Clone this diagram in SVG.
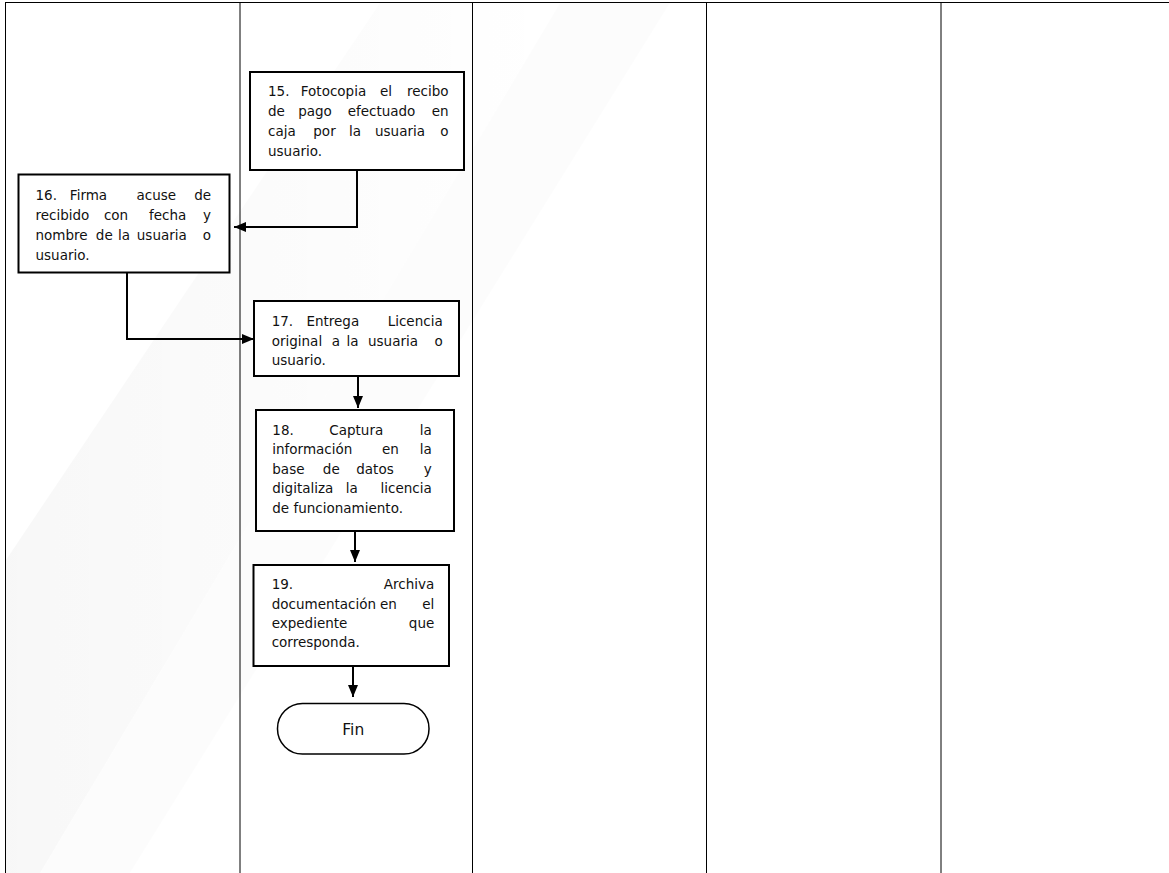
<svg xmlns="http://www.w3.org/2000/svg" width="1169" height="873" viewBox="0 0 1169 873">
<defs>
<style>
.lane{stroke:#000;stroke-width:1;fill:none}
.box{fill:#fff;stroke:#000;stroke-width:2}
.term{fill:#fff;stroke:#000;stroke-width:1.5}
.t{font-family:"DejaVu Sans","Liberation Sans",sans-serif;font-size:13.5px;fill:#111}
.m{text-anchor:middle}
.e{text-anchor:end}
.c{stroke:#000;stroke-width:2;fill:none}
</style>
<marker id="ah" viewBox="0 0 12 10" refX="12" refY="5" markerWidth="12" markerHeight="10" markerUnits="userSpaceOnUse" orient="auto">
<path d="M0,0 L12,5 L0,10 Z" fill="#000"/>
</marker>
<linearGradient id="wm" x1="0" y1="0" x2="1" y2="0">
<stop offset="0" stop-color="#000" stop-opacity="0.03"/>
<stop offset="1" stop-color="#000" stop-opacity="0.0"/>
</linearGradient>
</defs>
<rect width="1169" height="873" fill="#fff"/>
<g id="watermark">
<polygon points="380,3 560,3 40,873 6,873 6,560" fill="url(#wm)"/>
<polygon points="560,3 670,3 130,873 40,873" fill="#000" fill-opacity="0.012"/>
</g>
<g id="lanes">
<line class="lane" x1="5" y1="2.5" x2="1169" y2="2.5"/>
<line class="lane" x1="5.5" y1="2" x2="5.5" y2="873"/>
<line class="lane" x1="240" y1="2" x2="240" y2="873"/>
<line class="lane" x1="472.5" y1="2" x2="472.5" y2="873"/>
<line class="lane" x1="706.5" y1="2" x2="706.5" y2="873"/>
<line class="lane" x1="941" y1="2" x2="941" y2="873"/>
</g>
<g id="connectors">
<path class="c" d="M357,170 V227 H234" marker-end="url(#ah)"/>
<path class="c" d="M127,273 V339 H254" marker-end="url(#ah)"/>
<path class="c" d="M358,376 V408" marker-end="url(#ah)"/>
<path class="c" d="M355,531 V562" marker-end="url(#ah)"/>
<path class="c" d="M353,666 V697" marker-end="url(#ah)"/>
</g>
<g id="n15">
<rect class="box" x="250" y="72" width="214" height="98"/>
<text class="t" x="268" y="95.5">15.</text>
<text class="t m" x="333.5" y="95.5">Fotocopia</text>
<text class="t m" x="386" y="95.5">el</text>
<text class="t e" x="448.5" y="95.5">recibo</text>
<text class="t" x="268" y="115.5">de</text>
<text class="t m" x="315" y="115.5">pago</text>
<text class="t m" x="381.5" y="115.5">efectuado</text>
<text class="t e" x="448.5" y="115.5">en</text>
<text class="t" x="268" y="135.5">caja</text>
<text class="t m" x="324.5" y="135.5">por</text>
<text class="t m" x="355" y="135.5">la</text>
<text class="t m" x="400" y="135.5">usuaria</text>
<text class="t e" x="448.5" y="135.5">o</text>
<text class="t" x="268" y="155.5">usuario.</text>
</g>
<g id="n16">
<rect class="box" x="18.5" y="174.5" width="211" height="98"/>
<text class="t" x="35.5" y="199.5">16.</text>
<text class="t m" x="88.5" y="199.5">Firma</text>
<text class="t m" x="156.3" y="199.5">acuse</text>
<text class="t e" x="211" y="199.5">de</text>
<text class="t" x="35.5" y="219.5">recibido</text>
<text class="t m" x="116" y="219.5">con</text>
<text class="t m" x="167.7" y="219.5">fecha</text>
<text class="t e" x="211" y="219.5">y</text>
<text class="t" x="35.5" y="239.5">nombre</text>
<text class="t m" x="104.3" y="239.5">de</text>
<text class="t m" x="124" y="239.5">la</text>
<text class="t m" x="161.8" y="239.5">usuaria</text>
<text class="t e" x="211" y="239.5">o</text>
<text class="t" x="35.5" y="259.5">usuario.</text>
</g>
<g id="n17">
<rect class="box" x="254" y="301" width="205" height="75"/>
<text class="t" x="271.7" y="326">17.</text>
<text class="t m" x="332.8" y="326">Entrega</text>
<text class="t e" x="442.7" y="326">Licencia</text>
<text class="t" x="271.7" y="345.5">original</text>
<text class="t m" x="335.8" y="345.5">a</text>
<text class="t m" x="352.5" y="345.5">la</text>
<text class="t m" x="393" y="345.5">usuaria</text>
<text class="t e" x="442.7" y="345.5">o</text>
<text class="t" x="271.7" y="365">usuario.</text>
</g>
<g id="n18">
<rect class="box" x="256" y="410" width="198" height="121"/>
<text class="t" x="272.3" y="434.5">18.</text>
<text class="t m" x="356.3" y="434.5">Captura</text>
<text class="t e" x="431.7" y="434.5">la</text>
<text class="t" x="272.3" y="454">información</text>
<text class="t m" x="390.5" y="454">en</text>
<text class="t e" x="431.7" y="454">la</text>
<text class="t" x="272.3" y="473.5">base</text>
<text class="t m" x="331.3" y="473.5">de</text>
<text class="t m" x="375" y="473.5">datos</text>
<text class="t e" x="431.7" y="473.5">y</text>
<text class="t" x="272.3" y="493">digitaliza</text>
<text class="t m" x="351.7" y="493">la</text>
<text class="t e" x="431.7" y="493">licencia</text>
<text class="t" x="272.3" y="512.5">de funcionamiento.</text>
</g>
<g id="n19">
<rect class="box" x="253.5" y="565" width="195.5" height="101"/>
<text class="t" x="271.7" y="589">19.</text>
<text class="t e" x="434.3" y="589">Archiva</text>
<text class="t" x="271.7" y="608.5">documentación</text>
<text class="t m" x="388.5" y="608.5">en</text>
<text class="t e" x="434.3" y="608.5">el</text>
<text class="t" x="271.7" y="628">expediente</text>
<text class="t e" x="434.3" y="628">que</text>
<text class="t" x="271.7" y="647">corresponda.</text>
</g>
<g id="fin">
<rect class="term" x="277.5" y="703.5" width="151.5" height="50.5" rx="25" ry="25"/>
<text class="t m" x="353.3" y="735" style="font-size:15.5px">Fin</text>
</g>
</svg>
